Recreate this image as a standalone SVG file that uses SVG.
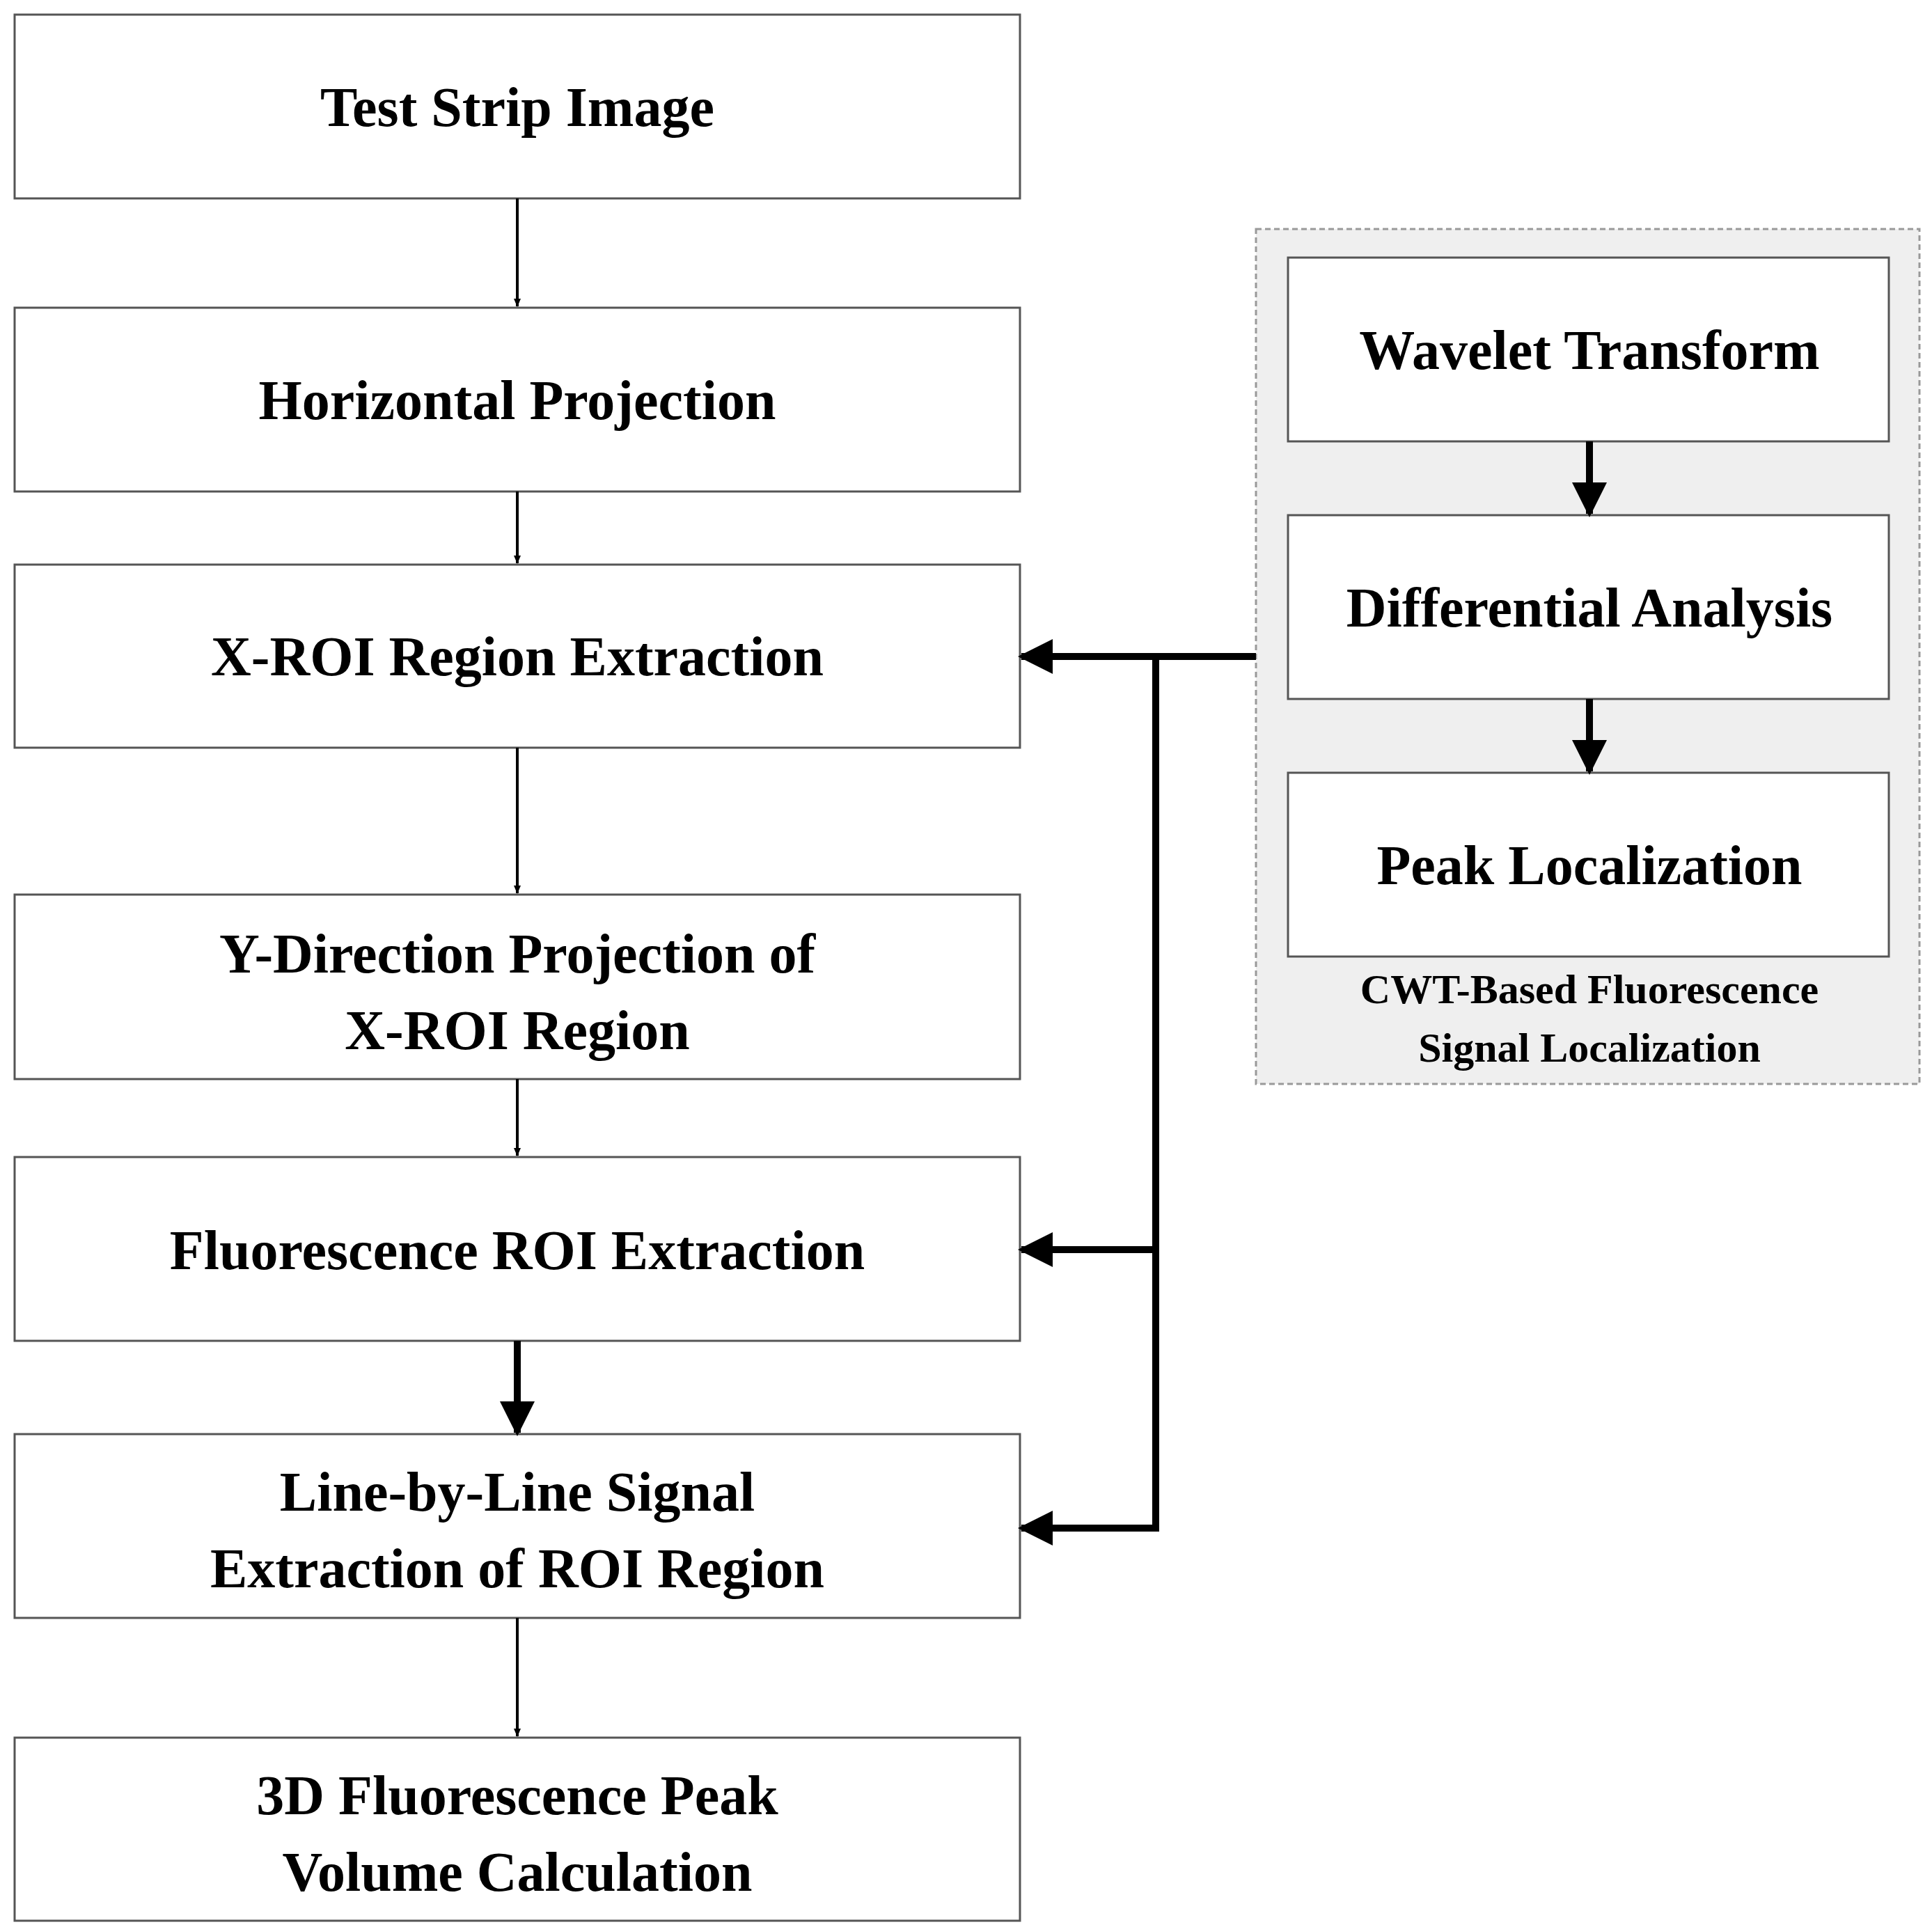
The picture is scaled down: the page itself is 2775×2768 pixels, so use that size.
<svg xmlns="http://www.w3.org/2000/svg" width="2775" height="2768" viewBox="0 0 2775 2768">
<style>
.b{fill:#fff;stroke:#555;stroke-width:3}
.t{font-family:"Liberation Serif",serif;font-weight:bold;font-size:80px;text-anchor:middle;fill:#000}
.c{font-family:"Liberation Serif",serif;font-weight:bold;font-size:60px;text-anchor:middle;fill:#000}
.thin{stroke:#000;stroke-width:4;fill:none}
.thick{stroke:#000;stroke-width:10;fill:none}
</style>
<defs>
<marker id="a" markerWidth="12" markerHeight="10" refX="11" refY="5" orient="auto" markerUnits="userSpaceOnUse" viewBox="0 0 12 10"><path d="M0,0L12,5L0,10z"/></marker>
<marker id="m" viewBox="0 0 10 10" refX="9" refY="5" markerWidth="5" markerHeight="5" orient="auto"><path d="M0,0L10,5L0,10z"/></marker>
</defs>
<g id="group-cwt"><rect x="1804" y="329" width="953" height="1228" fill="#efefef" stroke="#999" stroke-width="3" stroke-dasharray="8,5"/>
<text class="c" x="2283" y="1441">CWT-Based Fluorescence</text><text class="c" x="2283" y="1525">Signal Localization</text></g>
<g id="n1"><rect class="b" x="21" y="21" width="1444" height="264"/><text class="t" x="743" y="181">Test Strip Image</text></g>
<g id="n2"><rect class="b" x="21" y="442" width="1444" height="264"/><text class="t" x="743" y="602">Horizontal Projection</text></g>
<g id="n3"><rect class="b" x="21" y="811" width="1444" height="263"/><text class="t" x="743" y="970">X-ROI Region Extraction</text></g>
<g id="n4"><rect class="b" x="21" y="1285" width="1444" height="265"/><text class="t" x="743" y="1397">Y-Direction Projection of</text><text class="t" x="743" y="1507">X-ROI Region</text></g>
<g id="n5"><rect class="b" x="21" y="1662" width="1444" height="264"/><text class="t" x="743" y="1823">Fluorescence ROI Extraction</text></g>
<g id="n6"><rect class="b" x="21" y="2060" width="1444" height="264"/><text class="t" x="743" y="2170">Line-by-Line Signal</text><text class="t" x="743" y="2280">Extraction of ROI Region</text></g>
<g id="n7"><rect class="b" x="21" y="2496" width="1444" height="263"/><text class="t" x="743" y="2606">3D Fluorescence Peak</text><text class="t" x="743" y="2716">Volume Calculation</text></g>
<g id="r1"><rect class="b" x="1850" y="370" width="863" height="264"/><text class="t" x="2283" y="530">Wavelet Transform</text></g>
<g id="r2"><rect class="b" x="1850" y="740" width="863" height="264"/><text class="t" x="2283" y="900">Differential Analysis</text></g>
<g id="r3"><rect class="b" x="1850" y="1110" width="863" height="264"/><text class="t" x="2283" y="1270">Peak Localization</text></g>
<g id="connectors">
<path class="thin" d="M743 285V440" marker-end="url(#a)"/>
<path class="thin" d="M743 706V809" marker-end="url(#a)"/>
<path class="thin" d="M743 1074V1283" marker-end="url(#a)"/>
<path class="thin" d="M743 1550V1660" marker-end="url(#a)"/>
<path class="thick" d="M743 1926V2058" marker-end="url(#m)"/>
<path class="thin" d="M743 2324V2494" marker-end="url(#a)"/>
<path class="thick" d="M2283 634V738" marker-end="url(#m)"/>
<path class="thick" d="M2283 1004V1108" marker-end="url(#m)"/>
<path class="thick" d="M1804 943H1467" marker-end="url(#m)"/>
<path class="thick" d="M1660 943V2195"/>
<path class="thick" d="M1665 1795H1467" marker-end="url(#m)"/>
<path class="thick" d="M1665 2195H1467" marker-end="url(#m)"/>
</g>
</svg>
